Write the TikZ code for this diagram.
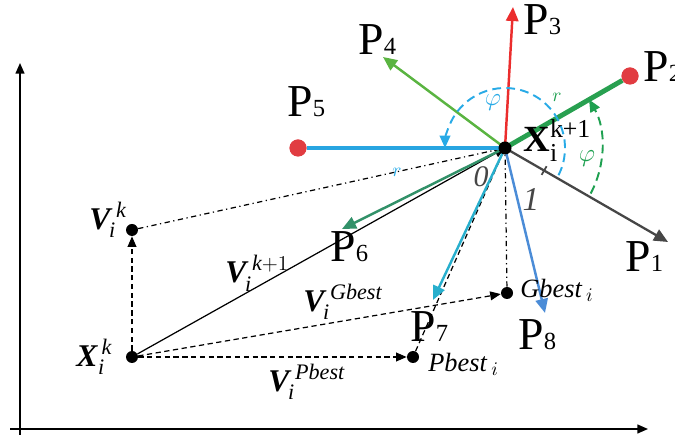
\documentclass[tikz,border=0pt]{standalone}
\usepackage{amsmath}
\usepackage{fontspec}
\setmainfont{Liberation Serif}
\usetikzlibrary{arrows.meta, positioning, calc}
\definecolor{dotred}{RGB}{225,60,65}
\definecolor{arrred}{RGB}{235,45,45}
\definecolor{leafgreen}{RGB}{90,180,65}
\definecolor{deepgreen}{RGB}{40,160,80}
\definecolor{skyblue}{RGB}{40,165,225}
\definecolor{seagreen}{RGB}{50,145,105}
\definecolor{cyanblue}{RGB}{40,175,205}
\definecolor{steelblue}{RGB}{75,140,215}
\definecolor{ink}{RGB}{70,70,70}
\definecolor{arcblue}{RGB}{40,170,230}
\definecolor{arcgreen}{RGB}{30,160,80}

\begin{document}
\begin{tikzpicture}[x=0.02cm, y=0.02cm,
  every node/.style={inner sep=0pt},
  plabel/.style={anchor=base west, font=\fontsize{26}{28}\selectfont},
  vlabel/.style={anchor=base west, font=\fontsize{18}{20}\selectfont},
  blabel/.style={anchor=base west, font=\fontsize{15}{17}\selectfont\itshape},
  reddot/.style={circle, fill=dotred, minimum size=0.34cm},
  bdot/.style={circle, fill=black, minimum size=0.24cm},
  vec/.style={line width=1.4pt, -{Triangle[length=8pt, width=7pt]}},
  helper/.style={line width=0.7pt, dash pattern=on 3pt off 2pt, -{Triangle[length=6pt, width=5pt]}},
  chain/.style={line width=0.7pt, dash dot},
  turn/.style={line width=1.1pt, dash pattern=on 5pt off 3pt, -{Triangle[length=7pt, width=6pt]}}]
  \useasboundingbox (0,0) rectangle (675,435);

  % Axes
  \draw[line width=0.9pt, -{Triangle[length=6pt, width=5pt]}] (20,0) -- (20,372);
  \draw[line width=0.9pt, -{Triangle[length=6pt, width=5pt]}] (10,6) -- (648,6);

  % Points
  \coordinate (C) at (505,287);
  \node[bdot] (xk) at (132,78) {};
  \node[bdot] (vk) at (132,205) {};
  \node[bdot] (gbest) at (507,142) {};
  \node[bdot] (pbest) at (413,78) {};
  \coordinate (p1) at (668,193);
  \coordinate (p3) at (513,428);
  \coordinate (p4) at (383,378);
  \coordinate (p6) at (342,206);
  \coordinate (p7) at (433,135);
  \coordinate (p8) at (545,122);

  % Velocity construction
  \draw[helper] (xk) -- (vk);
  \draw[helper] (xk) -- (pbest);
  \draw[helper] (xk) -- (gbest);
  \draw[line width=0.7pt, dash pattern=on 3pt off 2pt] (pbest) -- (C);
  \draw[chain] (vk) -- (C);
  \draw[chain] (gbest) -- (C);
  \draw[line width=0.7pt, -{Triangle[length=6pt, width=5pt]}] (xk) -- (C);

  % Direction vectors
  \draw[line width=1.3pt, ink, -{Triangle[length=8pt, width=7pt]}] (C) -- (p1);
  \draw[vec, arrred] (C) -- (p3);
  \draw[vec, leafgreen] (C) -- (p4);
  \draw[vec, seagreen] (C) -- (p6);
  \draw[vec, cyanblue] (C) -- (p7);
  \draw[vec, steelblue] (C) -- (p8);
  \node[reddot] (p5) at (298,287) {};
  \node[reddot] (p2) at (630,359) {};
  \draw[line width=2.8pt, skyblue] (C) -- (p5);
  \draw[line width=2.8pt, deepgreen] (C) -- (p2);
  \node[reddot] at (p5) {};
  \node[reddot] at (p2) {};

  % Rotation arcs
  \draw[turn, arcblue] ($(C)+(-27:60)$) arc[start angle=-27, end angle=180, radius=60];
  \draw[turn, arcgreen] ($(C)+(-28:97)$) arc[start angle=-28, end angle=30, radius=97];
  \draw[line width=1pt, ink] ($(C)!0.24!(p1)+(60:5)$) -- ++(240:10);
  \node[bdot, minimum size=0.26cm] (c) at (C) {};

  % Labels
  \node[plabel] (l1) at (625,163) {P{\fontsize{14}{14}\selectfont 1}};
  \node[plabel] (l2) at (643,353) {P{\fontsize{14}{14}\selectfont 2}};
  \node[plabel] (l3) at (523,400) {P{\fontsize{14}{14}\selectfont 3}};
  \node[plabel] (l4) at (358,380) {P{\fontsize{14}{14}\selectfont 4}};
  \node[plabel] (l5) at (287,318) {P{\fontsize{14}{14}\selectfont 5}};
  \node[plabel] (l6) at (330,173) {P{\fontsize{14}{14}\selectfont 6}};
  \node[plabel] (l7) at (410,93) {P{\fontsize{14}{14}\selectfont 7}};
  \node[plabel] (l8) at (518,85) {P{\fontsize{14}{14}\selectfont 8}};
  \node[vlabel, font=\fontsize{21}{24}\selectfont] (lc) at (523,283) {$\textbf{X}_{\text{i}}^{\text{k+1}}$};
  \node[vlabel] (lvk) at (89,205) {$\textbf{\textit{V}}_{\!\textit{i}}^{\,\textit{k}}$};
  \node[vlabel] (lxk) at (76,68) {$\textbf{\textit{X}}_{\textit{i}}^{\,\textit{k}}$};
  \node[vlabel] (lvn) at (225,152) {$\textbf{\textit{V}}_{\!\textit{i}}^{\,\textit{k}+1}$};
  \node[vlabel] (lvg) at (303,123) {$\textbf{\textit{V}}_{\!\textit{i}}^{\,\textit{Gbest}}$};
  \node[vlabel] (lvp) at (268,43) {$\textbf{\textit{V}}_{\!\textit{i}}^{\,\textit{Pbest}}$};
  \node[blabel] (lg) at (520,137) {Gbest\,$_{i}$};
  \node[blabel] (lp) at (428,63) {Pbest\,$_{i}$};
  \node[font=\fontsize{14}{16}\selectfont, arcblue] (phib) at (493,332) {$\varphi$};
  \node[font=\fontsize{14}{16}\selectfont, arcgreen] (phig) at (587,276) {$\varphi$};
  \node[font=\fontsize{11}{12}\selectfont, arcblue] (rb) at (397,263) {$r$};
  \node[font=\fontsize{11}{12}\selectfont, arcgreen] (rg) at (557,338) {$r$};
  \node[font=\fontsize{17}{18}\selectfont\itshape, ink] (n0) at (481,258) {0};
  \node[font=\fontsize{19}{20}\selectfont\itshape, ink] (n1) at (531,236) {1};
\end{tikzpicture}
\end{document}
